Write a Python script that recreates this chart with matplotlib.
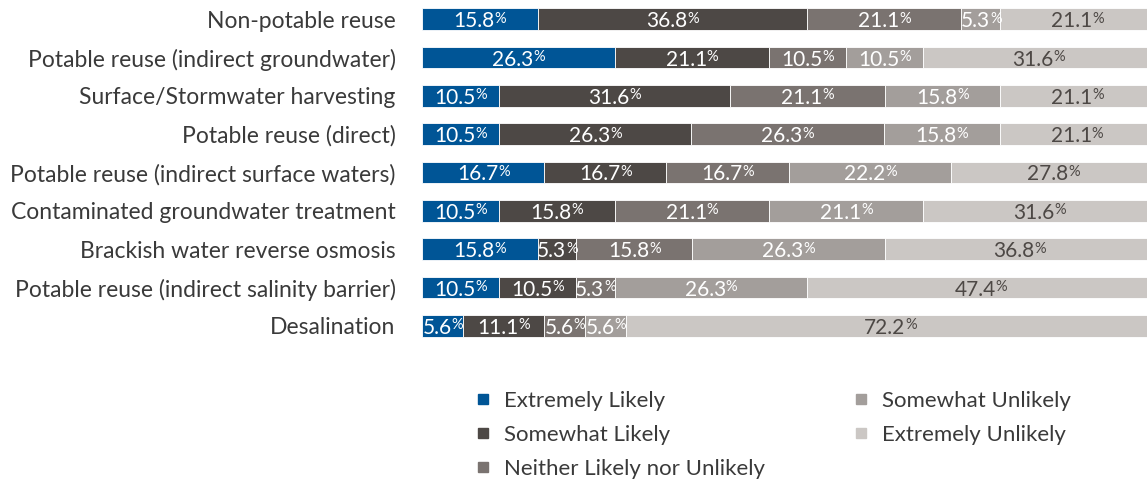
import matplotlib
matplotlib.use('Agg')
import matplotlib.pyplot as plt
from matplotlib.lines import Line2D
import numpy as np

plt.rcParams['font.family'] = ['Lato', 'DejaVu Sans']

categories = ['Non-potable reuse',
              'Potable reuse (indirect groundwater)',
              'Surface/Stormwater harvesting',
              'Potable reuse (direct)',
              'Potable reuse (indirect surface waters)',
              'Contaminated groundwater treatment',
              'Brackish water reverse osmosis',
              'Potable reuse (indirect salinity barrier)',
              'Desalination']
series = ['Extremely Likely', 'Somewhat Likely', 'Neither Likely nor Unlikely',
          'Somewhat Unlikely', 'Extremely Unlikely']
extremely_likely = [15.8, 26.3, 10.5, 10.5, 16.7, 10.5, 15.8, 10.5, 5.6]
somewhat_likely = [36.8, 21.1, 31.6, 26.3, 16.7, 15.8, 5.3, 10.5, 11.1]
neither = [21.1, 10.5, 21.1, 26.3, 16.7, 21.1, 15.8, 5.3, 5.6]
somewhat_unlikely = [5.3, 10.5, 15.8, 15.8, 22.2, 21.1, 26.3, 26.3, 5.6]
extremely_unlikely = [21.1, 31.6, 21.1, 21.1, 27.8, 31.6, 36.8, 47.4, 72.2]

colors = ['#005596', '#4d4845', '#7a7370', '#a39e9b', '#cbc7c4']
label_colors = ['white', 'white', 'white', 'white', '#4d4845']
text_color = '#3a3a3a'

values = [extremely_likely, somewhat_likely, neither, somewhat_unlikely, extremely_unlikely]

fig = plt.figure(figsize=(11.47, 4.8), dpi=100)
ax = fig.add_axes([422 / 1147, 1 - 345 / 480, 732 / 1147, 345 / 480])

y = np.arange(len(categories))
left = np.zeros(len(categories))
for vals, col, lc in zip(values, colors, label_colors):
    vals = np.array(vals)
    ax.barh(y, vals, left=left, height=0.57, color=col, edgecolor='white', linewidth=0.6)
    for yi, l, v in zip(y, left, vals):
        t = ax.annotate(f'{v:.1f}', xy=(l + v / 2, yi), xytext=(-4, 0),
                        textcoords='offset points', ha='center', va='center_baseline',
                        fontsize=15, color=lc)
        ax.annotate('%', xy=(1.0, 0.97), xycoords=t, ha='left', va='top',
                    fontsize=10.5, color=lc)
    left += vals

ax.set_xlim(0, 100)
ax.set_ylim(8.5, -0.5)
ax.set_yticks(y)
ax.set_yticklabels(categories, fontsize=16.5, color=text_color)
ax.tick_params(axis='y', length=0, pad=19)
ax.set_xticks([])
for s in ax.spines.values():
    s.set_visible(False)

handles = [Line2D([], [], marker='s', linestyle='none', markersize=7,
                  markerfacecolor=c, markeredgecolor=c) for c in colors]
leg = fig.legend(handles, series, loc='upper left', bbox_to_anchor=(474 / 1147, 1 - 391 / 480),
                 ncol=2, frameon=False, prop={'size': 16},
                 handlelength=0.8, handletextpad=0.55,
                 columnspacing=3.9, labelspacing=0.62, borderpad=0, borderaxespad=0)
for txt in leg.get_texts():
    txt.set_color(text_color)

plt.savefig('out.png', dpi=100)
